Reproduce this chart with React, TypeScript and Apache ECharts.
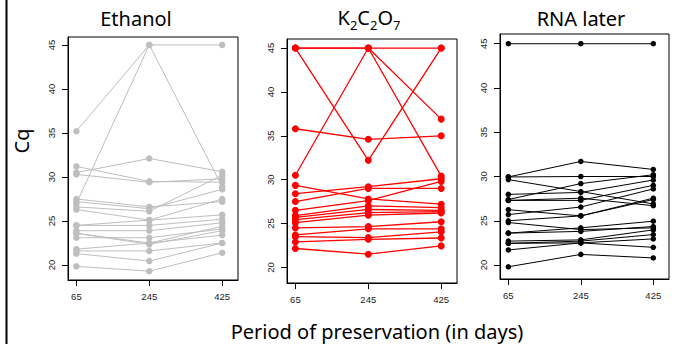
import React, { useEffect, useRef } from "react";
import * as echarts from "echarts";

// Days of preservation (x categories, numeric)
const days = [65, 245, 425];
const yTicks = [20, 25, 30, 35, 40, 45];

// Cq values per sample at 65, 245, 425 days
const ethanol: number[][] = [
  [35.2, 45, 45],
  [27.0, 45, 28.9],
  [31.2, 29.5, 29.4],
  [30.5, 32.1, 30.6],
  [30.3, 29.4, 29.8],
  [27.5, 26.6, 27.2],
  [27.2, 26.4, 28.6],
  [26.6, 26.1, 30.2],
  [26.3, 25.1, 27.5],
  [24.5, 25.1, 25.7],
  [24.5, 24.5, 25.2],
  [23.9, 23.9, 24.8],
  [23.6, 22.5, 24.4],
  [23.1, 23.1, 24.1],
  [23.6, 22.35, 23.9],
  [21.8, 22.5, 23.4],
  [21.6, 21.6, 22.5],
  [21.3, 20.45, 22.5],
  [19.85, 19.3, 21.4],
];

const k2c2o7: number[][] = [
  [45, 45, 45],
  [45, 45, 36.9],
  [30.5, 45, 30.4],
  [45, 32.2, 45],
  [35.8, 34.6, 35.0],
  [29.35, 27.8, 27.2],
  [28.4, 29.2, 30.1],
  [27.5, 29.0, 29.0],
  [26.5, 27.6, 29.8],
  [25.9, 27.0, 26.8],
  [25.7, 26.6, 26.5],
  [25.45, 26.25, 26.35],
  [25.1, 25.95, 26.2],
  [24.5, 24.65, 25.2],
  [23.7, 24.4, 24.4],
  [23.5, 23.4, 24.05],
  [22.9, 23.2, 23.35],
  [22.15, 21.5, 22.45],
];

const rnaLater: number[][] = [
  [45, 45, 45],
  [29.95, 31.7, 30.8],
  [29.95, 30.0, 30.0],
  [29.65, 28.3, 26.9],
  [27.98, 28.2, 29.6],
  [27.4, 29.2, 30.2],
  [27.3, 27.55, 26.7],
  [27.3, 27.3, 29.0],
  [26.25, 25.55, 27.4],
  [25.7, 26.55, 28.6],
  [25.0, 25.55, 27.55],
  [24.8, 24.0, 24.2],
  [23.6, 24.2, 24.95],
  [23.6, 23.8, 24.35],
  [22.7, 22.84, 23.97],
  [22.45, 22.7, 23.44],
  [21.7, 22.5, 22.95],
  [22.45, 22.5, 22.0],
  [19.8, 21.2, 20.8],
];

const panels = [
  { data: ethanol, color: "#bebebe", width: 1, size: 6.5, grid: { left: 68, top: 37, width: 170, height: 243 }, yMin: 18.3, yMax: 45.9 },
  { data: k2c2o7, color: "#ff0000", width: 1.3, size: 7, grid: { left: 287, top: 39, width: 170, height: 244 }, yMin: 18.22, yMax: 46.03 },
  { data: rnaLater, color: "#000000", width: 1, size: 5.5, grid: { left: 500, top: 34, width: 169, height: 245 }, yMin: 18.42, yMax: 46.1 },
];

const TICK_FONT = "'Liberation Sans', Arial, sans-serif";
const TITLE_FONT = "'Noto Sans', sans-serif";

export default function App() {
  const ref = useRef<HTMLDivElement>(null);
  useEffect(() => {
    document.body.style.margin = "0";
    if (!ref.current) return;
    const chart = echarts.init(ref.current, undefined, { renderer: "svg" });
    const grid = panels.map((p) => ({
      ...p.grid,
      show: true,
      borderColor: "#000",
      borderWidth: 1,
      backgroundColor: "transparent",
      containLabel: false,
    }));
    const xAxis = panels.map((p, i) => ({
      type: "value",
      gridIndex: i,
      min: 44.3,
      max: 464,
      axisLine: { show: true, lineStyle: { color: "#000", width: 1 } },
      axisTick: { show: true, customValues: days, length: 6, lineStyle: { color: "#000" } },
      axisLabel: { customValues: days, fontSize: 9.5, margin: 11, color: "#222", fontFamily: TICK_FONT },
      splitLine: { show: false },
    }));
    const yAxis = panels.map((p, i) => ({
      type: "value",
      gridIndex: i,
      min: p.yMin,
      max: p.yMax,
      axisLine: { show: true, lineStyle: { color: "#000", width: 1 } },
      axisTick: { show: true, customValues: yTicks, length: 6, lineStyle: { color: "#000" } },
      axisLabel: { customValues: yTicks, fontSize: 9.5, margin: 12, rotate: 90, color: "#222", fontFamily: TICK_FONT },
      splitLine: { show: false },
    }));
    const series: any[] = [];
    panels.forEach((p, i) => {
      p.data.forEach((row, j) => {
        series.push({
          name: `p${i}-${j}`,
          type: "line",
          xAxisIndex: i,
          yAxisIndex: i,
          data: days.map((d, k) => [d, row[k]]),
          symbol: "circle",
          symbolSize: p.size,
          showSymbol: true,
          color: p.color,
          lineStyle: { color: p.color, width: p.width, opacity: 1, type: "solid" },
          itemStyle: { color: p.color, borderWidth: 0, opacity: 1 },
          emphasis: { disabled: true },
          silent: true,
        });
      });
    });
    chart.setOption({
      animation: false,
      grid,
      xAxis,
      yAxis,
      series,
      graphic: [
        { type: "rect", shape: { x: 5.5, y: 0, width: 2, height: 344 }, style: { fill: "#000" } },
        {
          type: "text", x: 136, y: 18,
          style: { text: "Ethanol", font: `20px ${TITLE_FONT}`, fill: "#000", align: "center", verticalAlign: "middle" },
        },
        {
          type: "text", x: 369, y: 19,
          style: {
            text: "{m|K}{s|2}{m|C}{s|2}{m|O}{s|7}",
            align: "center",
            verticalAlign: "middle",
            rich: {
              m: { fontSize: 20, fontFamily: TITLE_FONT, fill: "#000", lineHeight: 24, verticalAlign: "top" },
              s: { fontSize: 13, fontFamily: TITLE_FONT, fill: "#000", lineHeight: 10, verticalAlign: "bottom" },
            },
          },
        },
        {
          type: "text", x: 581, y: 18,
          style: { text: "RNA later", font: `20px ${TITLE_FONT}`, fill: "#000", align: "center", verticalAlign: "middle" },
        },
        {
          type: "text", x: 21, y: 141, rotation: Math.PI / 2,
          style: { text: "Cq", font: `20px ${TITLE_FONT}`, fill: "#000", align: "center", verticalAlign: "middle" },
        },
        {
          type: "text", x: 377, y: 331,
          style: { text: "Period of preservation (in days)", font: `20px ${TITLE_FONT}`, fill: "#000", align: "center", verticalAlign: "middle" },
        },
      ],
    });
    return () => chart.dispose();
  }, []);
  return <div ref={ref} style={{ width: 677, height: 344 }} />;
}
